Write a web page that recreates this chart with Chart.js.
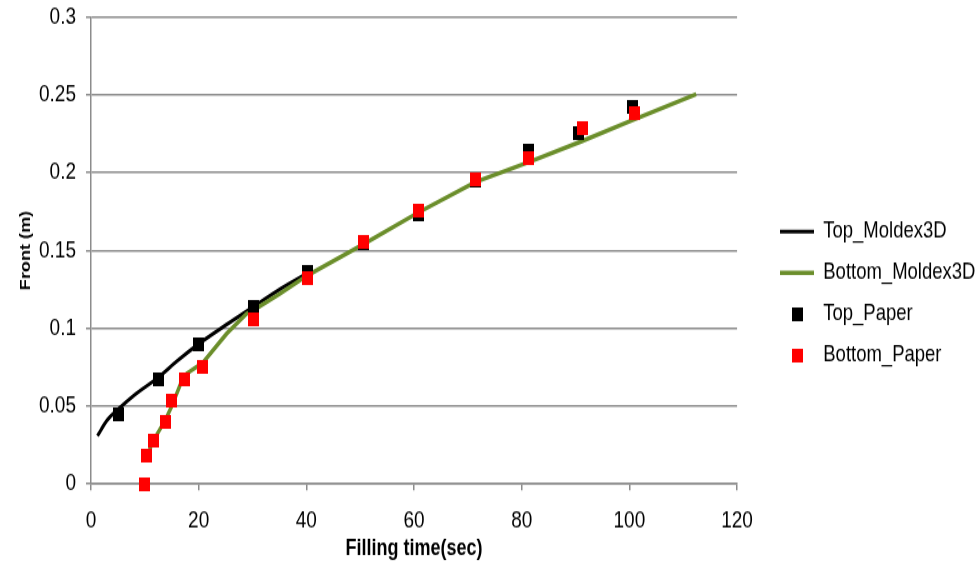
<!DOCTYPE html>
<html>
<head>
<meta charset="utf-8">
<script src="https://cdn.jsdelivr.net/npm/chart.js@4"></script>
<style>
  html, body { margin: 0; padding: 0; background: #fff; width: 978px; height: 565px; overflow: hidden; }
  #frame { position: relative; width: 978px; height: 565px; overflow: hidden; }
  /* the source picture is an Excel chart stretched vertically, so draw flat and stretch */
  #parent { position: absolute; left: 0; top: 0; width: 978px; height: 452px; transform: scaleY(1.25); transform-origin: 0 0; }
</style>
</head>
<body>
<div id="frame"><div id="parent"><canvas id="myChart"></canvas></div></div>
<script>
var topMoldexX = [1.2, 3, 5.2, 8, 12.7, 16, 20, 25, 30, 35, 40.5];
var topMoldexY = [0.031, 0.041, 0.0485, 0.057, 0.069, 0.079, 0.090, 0.102, 0.1135, 0.125, 0.136];

var bottomMoldexX = [10.5, 11.6, 13.8, 15, 16.6, 17.8, 20.8, 25.2, 28.9, 30.1, 35, 40.2, 50.7, 60.9, 71.4, 81.2, 91, 100, 112.4];
var bottomMoldexY = [0.019, 0.028, 0.041, 0.050, 0.064, 0.071, 0.078, 0.0966, 0.1094, 0.1115, 0.122, 0.134, 0.1543, 0.1746, 0.194, 0.2066, 0.220, 0.233, 0.2504];

var topPaperX = [5.2, 12.6, 19.9, 30.1, 40.2, 50.7, 60.9, 71.4, 81.2, 90.5, 100.6];
var topPaperY = [0.0447, 0.0673, 0.0896, 0.1135, 0.136, 0.155, 0.1735, 0.195, 0.214, 0.2258, 0.2419];

var bottomPaperX = [9.9, 10.4, 11.6, 13.8, 15.0, 17.3, 20.8, 30.1, 40.2, 50.7, 60.9, 71.4, 81.2, 91.3, 100.9];
var bottomPaperY = [0.0, 0.0186, 0.0276, 0.040, 0.0538, 0.0673, 0.075, 0.106, 0.132, 0.1555, 0.176, 0.1955, 0.209, 0.229, 0.2383];

var xTickLabels = ['0', '20', '40', '60', '80', '100', '120'];
var yTickLabels = ['0', '0.05', '0.1', '0.15', '0.2', '0.25', '0.3'];

function pairs(xs, ys) {
    return xs.map(function(x, i) { return {x: x, y: ys[i]}; });
}

function squareIcon(color) {
    var c = document.createElement('canvas');
    c.width = 11;
    c.height = 11;
    var g = c.getContext('2d');
    g.fillStyle = color;
    g.fillRect(0, 0, 11, 11);
    return c;
}

var gridGray = '#8c8c8c';
Chart.defaults.font.family = '"Liberation Sans", Arial, sans-serif';
Chart.defaults.color = '#000';

// put the legend where Excel had it
var legendPlace = {
    id: 'legendPlace',
    afterLayout: function(chart) {
        var lg = chart.legend;
        var pad = lg.options.labels.padding;
        var w = lg.width;
        lg.left = 780 - pad;
        lg.right = lg.left + w;
        lg.top = 176 - pad;
        lg.bottom = 440;
    }
};

var ctx = document.getElementById('myChart');
new Chart(ctx, {
    type: 'scatter',
    data: {
        datasets: [{
            label: 'Top_Moldex3D',
            data: pairs(topMoldexX, topMoldexY),
            showLine: true,
            cubicInterpolationMode: 'monotone',
            borderColor: '#000000',
            backgroundColor: '#000000',
            borderWidth: 3,
            pointRadius: 0,
            pointHoverRadius: 0,
            pointBorderWidth: 3,
            pointStyle: 'line',
            order: 3
        }, {
            label: 'Bottom_Moldex3D',
            data: pairs(bottomMoldexX, bottomMoldexY),
            showLine: true,
            borderColor: '#6b8e2b',
            backgroundColor: '#6b8e2b',
            borderWidth: 3.5,
            pointRadius: 0,
            pointHoverRadius: 0,
            pointBorderWidth: 3.5,
            pointStyle: 'line',
            order: 2
        }, {
            label: 'Top_Paper',
            data: pairs(topPaperX, topPaperY),
            pointStyle: squareIcon('#000000'),
            pointRadius: 6,
            pointBorderWidth: 0,
            backgroundColor: '#000000',
            borderColor: '#000000',
            clip: false,
            order: 1
        }, {
            label: 'Bottom_Paper',
            data: pairs(bottomPaperX, bottomPaperY),
            pointStyle: squareIcon('#ff0000'),
            pointRadius: 6,
            pointBorderWidth: 0,
            backgroundColor: '#ff0000',
            borderColor: '#ff0000',
            clip: false,
            order: 0
        }]
    },
    options: {
        responsive: true,
        maintainAspectRatio: false,
        animation: false,
        layout: {
            padding: {top: 13.6, right: 21, bottom: 0, left: 0}
        },
        plugins: {
            tooltip: {enabled: false},
            legend: {
                position: 'right',
                align: 'start',
                labels: {
                    usePointStyle: true,
                    pointStyleWidth: 34,
                    boxHeight: 11,
                    padding: 14.5,
                    color: '#000',
                    font: {size: 18.5},
                    sort: function(a, b) { return a.datasetIndex - b.datasetIndex; }
                }
            }
        },
        scales: {
            x: {
                type: 'linear',
                min: 0,
                max: 120,
                afterFit: function(s) { s.height = 64.8; },
                ticks: {
                    stepSize: 20,
                    padding: 13,
                    color: '#000',
                    font: {size: 19},
                    callback: function(v) { return xTickLabels[Math.round(v / 20)]; }
                },
                grid: {
                    drawOnChartArea: false,
                    drawTicks: true,
                    tickLength: 5,
                    color: gridGray,
                    lineWidth: 1.5
                },
                border: {display: true, color: gridGray, width: 1.5},
                title: {
                    display: true,
                    text: 'Filling time(sec)',
                    color: '#000',
                    font: {size: 18, weight: 'bold'},
                    padding: {top: 1.6, bottom: 2}
                }
            },
            y: {
                min: 0,
                max: 0.3,
                afterFit: function(s) {
                    s.width = 91;
                    s.paddingTop = 0;
                    s.paddingBottom = 0;
                },
                ticks: {
                    stepSize: 0.05,
                    padding: 10,
                    color: '#000',
                    font: {size: 19},
                    callback: function(v) { return yTickLabels[Math.round(v / 0.05)]; }
                },
                grid: {
                    color: gridGray,
                    lineWidth: 1.5,
                    tickLength: 5
                },
                border: {display: true, color: gridGray, width: 1.5},
                title: {
                    display: true,
                    text: 'Front (m)',
                    color: '#000',
                    font: {size: 14.5, weight: 'bold'},
                    padding: {top: 17, bottom: 0}
                }
            }
        }
    },
    plugins: [legendPlace]
});
</script>
</body>
</html>
